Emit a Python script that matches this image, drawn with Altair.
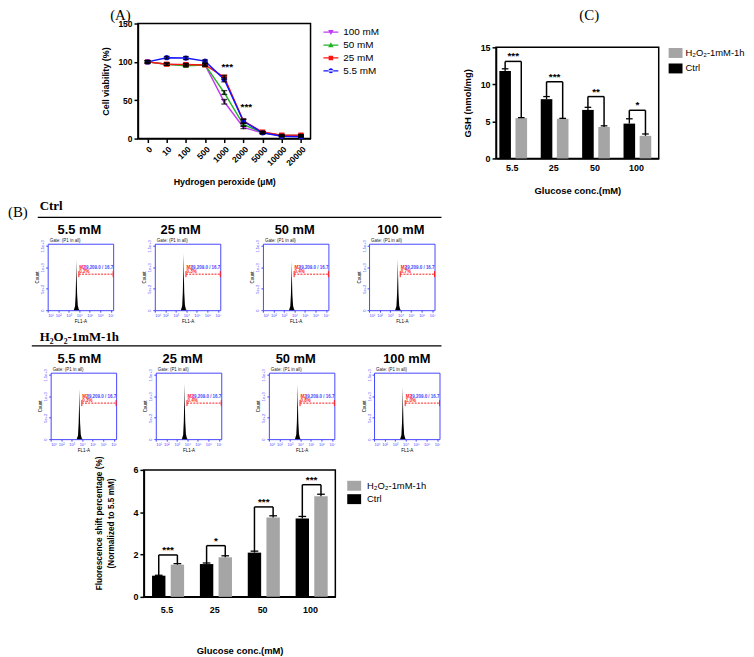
import altair as alt
import pandas as pd

SANS = "Liberation Sans"
SERIF = "Liberation Serif"
HBLUE = "#4646ff"
HRED = "#ff1a1a"

# ---------------- Panel A data ----------------
h2o2_doses = ["0", "10", "100", "500", "1000", "2000", "5000", "10000", "20000"]
glucose_series = ["100 mM", "50 mM", "25 mM", "5.5 mM"]
series_colors = ["#c03cf2", "#22b422", "#ff1414", "#1414ff"]
series_shapes = ["triangle-down", "triangle-up", "square", "circle"]
viab_100 = [100, 97, 96, 96, 48, 14.5, 7.5, 4, 3.5]
viab_50 = [100, 97, 95, 96, 60, 18, 8, 4, 4]
viab_25 = [100, 97, 96.5, 96, 80, 23, 8.5, 4.5, 4.5]
viab_55 = [100, 105.5, 105, 101, 77, 22.5, 7.5, 3, 2.5]
sem_100 = [1.5, 1.5, 1.5, 1.5, 3, 1.5, 1.2, 1, 1]
sem_50 = [1.5, 1.5, 1.5, 1.5, 2.5, 1.5, 1.2, 1, 1]
sem_25 = [1.5, 1.5, 1.5, 1.5, 2.5, 2.5, 1.2, 1, 1]
sem_55 = [1.5, 1.5, 2, 1.5, 3, 2.5, 1.2, 1, 1]
sigA_dose = ["1000", "2000"]
sigA_y = [93, 41]
sigA_text = ["***", "***"]
viab_ticks = [0, 50, 100, 150]

# ---------------- Panel C / B bar data ----------------
glucose_conc = ["5.5", "25", "50", "100"]
conditions = ["H₂O₂-1mM-1h", "Ctrl"]
cond_colors = ["#a5a5a5", "#000000"]

gsh_ctrl = [11.8, 8.0, 6.55, 4.7]
gsh_ctrl_err = [0.3, 0.35, 0.35, 0.65]
gsh_h2o2 = [5.45, 5.35, 4.25, 3.05]
gsh_h2o2_err = [0.06, 0.06, 0.15, 0.25]
gsh_bracket = [13.1, 10.35, 8.35, 6.5]
gsh_sig = ["***", "***", "**", "*"]
gsh_ticks = [0, 5, 10, 15]

fluor_ctrl = [1.0, 1.55, 2.09, 3.7]
fluor_ctrl_err = [0.02, 0.05, 0.07, 0.1]
fluor_h2o2 = [1.52, 1.87, 3.75, 4.75]
fluor_h2o2_err = [0.05, 0.07, 0.08, 0.1]
fluor_bracket = [1.98, 2.42, 4.25, 5.3]
fluor_sig = ["***", "*", "***", "***"]
fluor_ticks = [0, 2, 4, 6]

# ---------------- Histogram data ----------------
hist_x = [3000, 4000, 4600, 5100, 5400, 5700, 6300, 7300, 9000, 11000]
ctrl_55 = [0, 90, 380, 820, 1170, 800, 380, 110, 20, 0]
ctrl_25 = [0, 100, 420, 920, 1320, 900, 420, 120, 20, 0]
ctrl_50 = [0, 90, 370, 800, 1150, 790, 370, 110, 20, 0]
ctrl_100 = [0, 90, 390, 830, 1190, 820, 390, 110, 20, 0]
h2o2_55 = [0, 90, 380, 820, 1170, 800, 380, 110, 20, 0]
h2o2_25 = [0, 100, 410, 900, 1300, 890, 410, 120, 20, 0]
h2o2_50 = [0, 100, 400, 890, 1280, 880, 400, 120, 20, 0]
h2o2_100 = [0, 90, 390, 850, 1210, 830, 390, 110, 20, 0]
ctrl_pct = ["0.2%", "0.3%", "0.4%", "0.7%"]
h2o2_pct = ["0.3%", "0.4%", "0.8%", "1.0%"]
gate_lo, gate_hi, gate_y = 9209, 16777215, 840
gate_name = "M2"
gate_range = "(9,209.0 / 16.7"
gate_label = "Gate: (P1 in all)"
hist_xmax = 16777215
hist_xticks = [10, 100, 1000, 10000, 100000, 1000000, 10000000]
hist_yticks = [0, 500, 1000, 1500]
conc_titles = ["5.5 mM", "25 mM", "50 mM", "100 mM"]
panel_labels = ["(A)", "(B)", "(C)"]
section_labels = ["Ctrl", "H₂O₂-1mM-1h"]


def spacer(w, h):
    return alt.Chart(pd.DataFrame({"s": [0]})).mark_point(opacity=0).properties(width=w, height=h)


def text_layer(text, x, y, size, weight="bold", font=SANS, align="left", color="black", baseline="middle"):
    return alt.Chart(pd.DataFrame({"t": [text]})).mark_text(
        align=align, baseline=baseline, font=font, fontSize=size, fontWeight=weight, color=color
    ).encode(text="t:N", x=alt.value(x), y=alt.value(y))


def hrule(x1, x2, y):
    return alt.Chart(pd.DataFrame({"t": [0]})).mark_rule(color="black", strokeWidth=1.3).encode(
        x=alt.value(x1), x2=alt.value(x2), y=alt.value(y))


# ================= Panel A =================
rows = []
for s, vals, errs in zip(glucose_series, [viab_100, viab_50, viab_25, viab_55],
                         [sem_100, sem_50, sem_25, sem_55]):
    for k, (d, v, e) in enumerate(zip(h2o2_doses, vals, errs)):
        rows.append(dict(dose=d, idx=k, series=s, v=v, lo=v - e, hi=v + e))
dfA = pd.DataFrame(rows)
dfSigA = pd.DataFrame({"dose": sigA_dose, "y": sigA_y, "t": sigA_text})

scaleAx = alt.Scale(type="point", domain=h2o2_doses, padding=0.5)
scaleAy = alt.Scale(domain=[0, 150], nice=False)
axAx = alt.Axis(title="Hydrogen peroxide (µM)", labelAngle=315, labelFontWeight="bold", labelFontSize=8.5,
                tickSize=4, tickWidth=1.5, domainWidth=1.5, labelPadding=2, titleFontSize=9,
                titleFontWeight="bold", titlePadding=11)
axAy = alt.Axis(title="Cell viability (%)", values=viab_ticks, tickSize=4, tickWidth=1.5, domainWidth=1.5,
                labelFontWeight="bold", labelFontSize=8.5, labelPadding=2, titleFontSize=9,
                titleFontWeight="bold", titlePadding=7)


def xA():
    return alt.X("dose:N", scale=scaleAx, axis=axAx)


def yA(f):
    return alt.Y(f + ":Q", scale=scaleAy, axis=axAy)


colorA = alt.Scale(domain=glucose_series, range=series_colors)
leg_line = "M-1.5,-0.12H1.5V0.12H-1.5Z "
legend_paths = [
    leg_line + "M-0.55,-0.45H0.55L0,0.55Z",
    leg_line + "M0,-0.55L0.55,0.45H-0.55Z",
    leg_line + "M-0.45,-0.45H0.45V0.45H-0.45Z",
    leg_line + "M-0.5,0A0.5,0.5,0,1,0,0.5,0A0.5,0.5,0,1,0,-0.5,0Z",
]
legA = alt.Legend(orient="none", legendX=189.5, legendY=3.7, title=None, symbolSize=100,
                  symbolStrokeWidth=0, labelFont=SANS, labelFontSize=10, labelColor="black",
                  rowPadding=3, labelOffset=7.5, padding=0)

baseA = alt.Chart(dfA)
linesA = baseA.mark_line(strokeWidth=1.5).encode(
    x=xA(), y=yA("v"), color=alt.Color("series:N", scale=colorA, legend=None), order="idx:Q")
pointsA = baseA.mark_point(filled=True, size=28, opacity=1).encode(
    x=xA(), y=yA("v"), color=alt.Color("series:N", scale=colorA, legend=None),
    shape=alt.Shape("series:N", scale=alt.Scale(domain=glucose_series, range=series_shapes), legend=None))
errA = baseA.mark_rule(color="black", strokeWidth=1.2).encode(x=xA(), y=yA("lo"), y2="hi:Q")
capLoA = baseA.mark_tick(color="black", thickness=1.3, size=6).encode(x=xA(), y=yA("lo"))
capHiA = baseA.mark_tick(color="black", thickness=1.3, size=6).encode(x=xA(), y=yA("hi"))
starsA = alt.Chart(dfSigA).mark_text(font=SANS, fontSize=10, fontWeight="bold", dx=3, color="black").encode(
    x=xA(), y=yA("y"), text="t:N")
legendA = baseA.mark_point(filled=True, size=100, opacity=1).encode(
    color=alt.Color("series:N", scale=colorA, legend=legA),
    shape=alt.Shape("series:N", scale=alt.Scale(domain=glucose_series, range=legend_paths), legend=legA),
).transform_filter("false")
labelA = text_layer(panel_labels[0], -28, -4, 15, weight="normal", font=SERIF, baseline="alphabetic")

chartA = alt.layer(linesA, pointsA, errA, capLoA, capHiA, starsA, legendA, labelA).resolve_scale(
    color="independent", shape="independent"
).properties(
    width=174, height=116,
    view=alt.ViewBackground(stroke="black", strokeWidth=1.5),
)

# ================= Bar panels =================
CTRL_OFF = (-0.3, -0.02)
TRT_OFF = (0.09, 0.37)
CAP = 0.08
box_path = "M-1.4,-1H1.4V1H-1.4Z"
label_expr = "[" + ",".join(repr(g) for g in glucose_conc) + "][round(datum.value)]"


def bar_panel(ctrl, ctrl_err, trt, trt_err, bracket, sig, yticks, dom, width, height, ytitle, leg,
              xlab_pad, xtitle_pad, ytitle_pad, ytitle_size, ytitle_y=None):
    bar_rows = []
    br_rows = []
    for i in range(len(glucose_conc)):
        xc_c = i + (CTRL_OFF[0] + CTRL_OFF[1]) / 2
        xc_t = i + (TRT_OFF[0] + TRT_OFF[1]) / 2
        for cond, v, e, off, xc in [("Ctrl", ctrl[i], ctrl_err[i], CTRL_OFF, xc_c),
                                    (conditions[0], trt[i], trt_err[i], TRT_OFF, xc_t)]:
            bar_rows.append(dict(cond=cond, x0=i + off[0], x1=i + off[1], xc=xc, cl=xc - CAP, cr=xc + CAP,
                                 v=v, hi=v + e, zero=0))
        br_rows.append(dict(xa=xc_c, xb=xc_t, xm=(xc_c + xc_t) / 2, ya=ctrl[i] + ctrl_err[i],
                            yb=trt[i] + trt_err[i], yt=bracket[i], s=sig[i]))
    dfb = pd.DataFrame(bar_rows)
    dfbr = pd.DataFrame(br_rows)
    sx = alt.Scale(domain=dom, nice=False, zero=False)
    sy = alt.Scale(domain=[0, yticks[-1]], nice=False)
    xax = alt.Axis(title="Glucose conc.(mM)", values=list(range(len(glucose_conc))), labelExpr=label_expr,
                   ticks=False, domainWidth=1.5, labelFontWeight="bold", labelFontSize=9, labelPadding=xlab_pad,
                   titleFontSize=9.5, titleFontWeight="bold", titlePadding=xtitle_pad)
    ykw = dict(title=ytitle, values=yticks, tickSize=4, tickWidth=1.5, domainWidth=1.5,
               labelFontWeight="bold", labelFontSize=9, labelPadding=2, titleFontSize=ytitle_size,
               titleFontWeight="bold", titlePadding=ytitle_pad, titleLineHeight=12)
    if ytitle_y is not None:
        ykw["titleY"] = ytitle_y
    yax = alt.Axis(**ykw)

    def X(f):
        return alt.X(f + ":Q", scale=sx, axis=xax)

    def Y(f):
        return alt.Y(f + ":Q", scale=sy, axis=yax)

    bars = alt.Chart(dfb).mark_rect().encode(
        x=X("x0"), x2="x1:Q", y=Y("v"), y2="zero:Q",
        color=alt.Color("cond:N", scale=alt.Scale(domain=conditions, range=cond_colors), legend=leg))
    err = alt.Chart(dfb).mark_rule(color="black", strokeWidth=1.3).encode(x=X("xc"), y=Y("v"), y2="hi:Q")
    cap = alt.Chart(dfb).mark_rule(color="black", strokeWidth=1.3).encode(x=X("cl"), x2="cr:Q", y=Y("hi"))
    b1 = alt.Chart(dfbr).mark_rule(color="black", strokeWidth=1.5).encode(x=X("xa"), y=Y("ya"), y2="yt:Q")
    b2 = alt.Chart(dfbr).mark_rule(color="black", strokeWidth=1.5).encode(x=X("xa"), x2="xb:Q", y=Y("yt"))
    b3 = alt.Chart(dfbr).mark_rule(color="black", strokeWidth=1.5).encode(x=X("xb"), y=Y("yt"), y2="yb:Q")
    stars = alt.Chart(dfbr).mark_text(font=SANS, fontWeight="bold", fontSize=10, baseline="middle", dy=-5,
                                      color="black").encode(x=X("xm"), y=Y("yt"), text="s:N")
    return alt.layer(bars, err, cap, b1, b2, b3, stars).properties(
        width=width, height=height, view=alt.ViewBackground(stroke="black", strokeWidth=1.5))


legC = alt.Legend(orient="none", legendX=176, legendY=0.7, title=None, symbolType=box_path, symbolSize=100,
                  symbolStrokeWidth=0, labelFont=SANS, labelFontSize=9.5, labelColor="black", labelOffset=5,
                  rowPadding=5.6, padding=0)
legB = alt.Legend(orient="none", legendX=207, legendY=11, title=None, symbolType=box_path, symbolSize=100,
                  symbolStrokeWidth=0, labelFont=SANS, labelFontSize=9.5, labelColor="black", labelOffset=8,
                  rowPadding=3.5, padding=0)

chartC = bar_panel(gsh_ctrl, gsh_ctrl_err, gsh_h2o2, gsh_h2o2_err, gsh_bracket, gsh_sig, gsh_ticks,
                   [-0.38, 3.55], 164, 112, "GSH (nmol/mg)", legC, 5, 13, 8, 9.5)
chartB = bar_panel(fluor_ctrl, fluor_ctrl_err, fluor_h2o2, fluor_h2o2_err, fluor_bracket, fluor_sig,
                   fluor_ticks, [-0.47, 3.53], 193, 128,
                   ["Fluorescence shift percentage (%)", "(Normalized to 5.5 mM)"], legB, 9, 31, 18, 8.3,
                   ytitle_y=53.5)

# ================= Histograms =================
hxs = alt.Scale(type="log", domain=[10, hist_xmax], nice=False)
hys = alt.Scale(domain=[0, 1550], nice=False)
sup = "['⁰','¹','²','³','⁴','⁵','⁶','⁷']"
hxax = alt.Axis(title="FL1-A", values=hist_xticks, labelExpr="'10' + " + sup + "[round(log(datum.value)/LN10)]",
                labelFontSize=4, labelFontWeight="normal", labelColor=HBLUE, tickColor=HBLUE, tickSize=2,
                domain=False, labelPadding=1, titleFontSize=4.5, titleFontWeight="normal", titlePadding=1,
                grid=False)
hyax = alt.Axis(title="Count", values=hist_yticks, format=",", labelAngle=270, labelFontSize=4,
                labelFontWeight="normal", labelColor=HBLUE, tickColor=HBLUE, tickSize=2, domain=False,
                labelPadding=1, titleFontSize=4.5, titleFontWeight="normal", titlePadding=1, grid=False)


def HX(f):
    return alt.X(f + ":Q", scale=hxs, axis=hxax)


def HY(f):
    return alt.Y(f + ":Q", scale=hys, axis=hyax)


def hist(counts, pct):
    dfp = pd.DataFrame({"x": hist_x, "c": counts})
    area = alt.Chart(dfp).mark_area(color="black", interpolate="linear").encode(x=HX("x"), y=HY("c"))
    dfg = pd.DataFrame({"x0": [gate_lo], "x1": [gate_hi], "y": [gate_y]})
    line = alt.Chart(dfg).mark_rule(color=HRED, strokeDash=[2, 1.2], strokeWidth=1).encode(
        x=HX("x0"), x2="x1:Q", y=HY("y"))
    dfc = pd.DataFrame({"x": [gate_lo, gate_hi], "a": [gate_y - 70] * 2, "b": [gate_y + 70] * 2})
    caps = alt.Chart(dfc).mark_rule(color=HRED, strokeWidth=1).encode(x=HX("x"), y=HY("a"), y2="b:Q")
    layers = [area, line, caps]
    for t, x, y, col in [(gate_name, gate_lo * 1.12, 985, HRED), (pct, gate_lo * 1.12, 895, HRED),
                         (gate_range, gate_lo * 3.4, 985, HBLUE)]:
        layers.append(alt.Chart(pd.DataFrame({"x": [x], "y": [y], "t": [t]})).mark_text(
            align="left", baseline="middle", font=SANS, fontSize=4.5, fontWeight="bold", color=col).encode(
            x=HX("x"), y=HY("y"), text="t:N"))
    layers.append(alt.Chart(pd.DataFrame({"t": [gate_label]})).mark_text(
        align="left", baseline="bottom", font=SANS, fontSize=4.5, color="#222222").encode(
        text="t:N", x=alt.value(2), y=alt.value(-1)))
    return alt.layer(*layers).properties(
        width=66, height=67, view=alt.ViewBackground(stroke=HBLUE, strokeWidth=1))


# ================= Layout =================
IND = dict(color="independent", shape="independent")

capC = alt.layer(
    spacer(1, 18.5),
    text_layer(panel_labels[2], 84, -4, 15, weight="normal", font=SERIF, baseline="alphabetic"),
).properties(width=1, height=18.5)
nestC = alt.vconcat(capC, chartC, spacing=0).resolve_scale(**IND)

row0 = alt.hconcat(spacer(94, 178), chartA, spacer(81, 1), nestC, spacing=0).resolve_scale(**IND)

header1 = alt.layer(
    text_layer(panel_labels[1], 0, 12, 15, weight="normal", font=SERIF),
    text_layer(section_labels[0], 32, 6, 13, font=SERIF),
    hrule(30, 437, 17.5),
    *[text_layer(t, x, 30, 13, align="center") for t, x in zip(conc_titles, [72, 174, 289, 396])],
).properties(width=440, height=36)

row_h1 = alt.hconcat(
    spacer(40, 85), hist(ctrl_55, ctrl_pct[0]), spacer(42, 1), hist(ctrl_25, ctrl_pct[1]),
    spacer(43, 1), hist(ctrl_50, ctrl_pct[2]), spacer(41, 1), hist(ctrl_100, ctrl_pct[3]),
    spacing=0, bounds="flush").resolve_scale(**IND)

header2 = alt.layer(
    text_layer(section_labels[1], 32, 9, 13, font=SERIF),
    hrule(24, 437, 18),
    *[text_layer(t, x, 31, 13, align="center") for t, x in zip(conc_titles, [72, 176, 290, 402])],
).properties(width=440, height=37)

row_h2 = alt.hconcat(
    spacer(43, 83), hist(h2o2_55, h2o2_pct[0]), spacer(40, 1), hist(h2o2_25, h2o2_pct[1]),
    spacer(48, 1), hist(h2o2_50, h2o2_pct[2]), spacer(40, 1), hist(h2o2_100, h2o2_pct[3]),
    spacing=0, bounds="flush").resolve_scale(**IND)

row_bar = alt.hconcat(spacer(137, 1), chartB, spacing=0, bounds="flush").resolve_scale(**IND)

chart = alt.vconcat(row0, header1, row_h1, header2, row_h2, row_bar, spacing=0).resolve_scale(
    **IND
).properties(padding={"top": -4, "left": 0, "right": 0, "bottom": 0}).configure_view(stroke=None).configure_axis(
    grid=False, labelFont=SANS, titleFont=SANS, labelColor="black", titleColor="black",
    domainColor="black", tickColor="black"
)

chart.save("out.html", embed_options={"renderer": "svg", "actions": False})
